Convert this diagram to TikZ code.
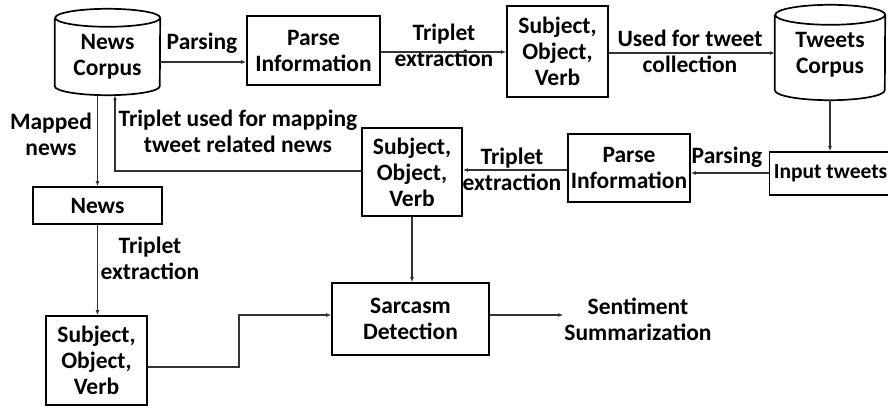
\documentclass[tikz,border=0pt]{standalone}
\usepackage{fontspec}
\setmainfont{Carlito}
\usetikzlibrary{arrows.meta,calc}

% cylinder outline drawn round a body node: #1 node, #2 x radius, #3 y radius
\newcommand\drawcyl[3]{%
  \draw[boxline] (#1.north west) -- (#1.south west)
    arc[start angle=180,end angle=360,x radius=#2,y radius=#3]
    -- (#1.north east)
    arc[start angle=0,end angle=360,x radius=#2,y radius=#3];}

\begin{document}
\begin{tikzpicture}[x=1pt,y=1pt,
  txt/.style={font=\bfseries\fontsize{23.5}{26}\selectfont, align=center, text=black, inner sep=1pt},
  boxline/.style={draw=black, line width=1.7pt},
  box/.style={txt, boxline, minimum width=#1},
  body/.style={minimum width=#1, inner sep=0pt},
  conn/.style={draw=black!80, line width=1.2pt},
  arr/.style={conn, -{Latex[length=5pt,width=4pt]}}]
\clip (0,0) rectangle (888,408);
\fill[white] (0,0) rectangle (888,408);

% ---- cylinders (corpora)
\node[body=105, minimum height=68] (newsC) at (107.5,356) {};
\drawcyl{newsC}{52.5}{9}
\node[txt] (newsCtxt) at (107.5,351.5) {News\\Corpus};

\node[body=110, minimum height=75] (tweets) at (830,355.5) {};
\drawcyl{tweets}{55}{10}
\node[txt] (tweetsTxt) at (830,353) {Tweets\\Corpus};

% ---- boxes
\node[box=133, minimum height=69] (parse1) at (313.5,357.5) {Parse\\Information};
\node[box=101, minimum height=91] (sov1) at (557.5,356.5) {Subject,\\Object,\\Verb};
\node[box=122, minimum height=43, font=\bfseries\fontsize{21.5}{26}\selectfont] (input) at (830.5,234.5) {Input tweets};
\node[box=122, minimum height=68] (parse2) at (629,240) {Parse\\Information};
\node[box=100, minimum height=88] (sov2) at (412,236) {Subject,\\Object,\\Verb};
\node[box=129, minimum height=37] (newsBox) at (97.5,202.5) {News};
\node[box=101, minimum height=89] (sov3) at (96.5,47.5) {Subject,\\Object,\\Verb};
\node[box=157, minimum height=72] (sarc) at (410.5,89) {Sarcasm\\Detection};
\node[txt] (sent) at (638,88.5) {Sentiment\\Summarization};

% ---- connector labels
\node[txt] (lblParse1) at (202,365) {Parsing};
\node[txt] (lblTrip1) at (444,363) {Triplet\\extraction};
\node[txt] (lblUsed) at (690,357) {Used for tweet\\collection};
\node[txt] (lblParse2) at (727,251) {Parsing};
\node[txt] (lblTrip2) at (512,239) {Triplet\\extraction};
\node[txt] (lblMap) at (238,276.5) {Triplet used for mapping\\tweet related news};
\node[txt] (lblMapped) at (51,273.5) {Mapped\\news};
\node[txt] (lblTrip3) at (150,150) {Triplet\\extraction};

% ---- connectors
\coordinate (newsBot) at ([yshift=-9]newsC.south);
\coordinate (mapIn) at ([xshift=7.5,yshift=-9]newsC.south);
\coordinate (bend) at (239,93);

\draw[arr] (newsC.east |- 0,346) -- (parse1.west |- 0,346);
\draw[arr] (parse1.east |- 0,356) -- (sov1.west |- 0,356);
\draw[arr] (sov1.east |- 0,355) -- (tweets.west |- 0,355);
\draw[arr] ([yshift=-10]tweets.south) -- (tweets.south |- input.north);
\draw[arr] (input.west |- 0,235) -- (parse2.east |- 0,235);
\draw[arr] (parse2.west |- 0,238) -- (sov2.east |- 0,238);
\draw[arr] (sov2.west |- 0,237) -| (mapIn);
\draw[arr] (newsBot -| newsBox.north) -- (newsBox.north);
\draw[arr] (newsBox.south) -- (newsBox.south |- sov3.north);
\draw[arr] (sov3.east |- 0,41) -| (bend) -- (sarc.west |- bend);
\draw[arr] (sov2.south) -- (sov2.south |- sarc.north);
\draw[arr] (sarc.east |- bend) -- (sent.west |- bend);
\end{tikzpicture}
\end{document}
